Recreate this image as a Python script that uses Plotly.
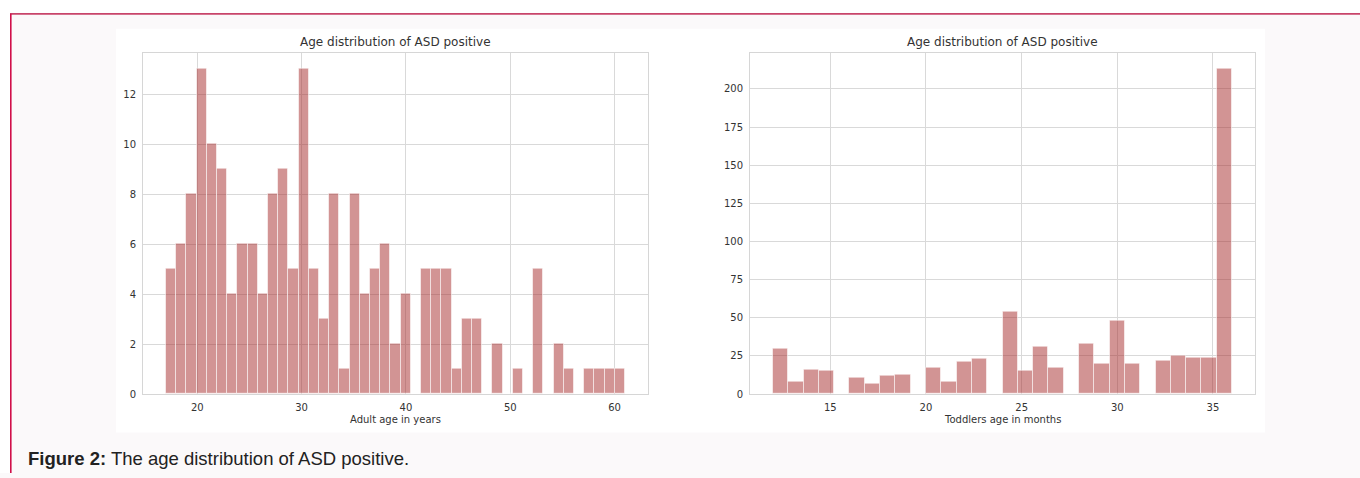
import plotly.graph_objects as go

# Adult ages (years): 45 equal bins spanning 17..61
adult_start, adult_end = 17, 61
adult_counts = [5, 6, 8, 13, 10, 9, 4, 6, 6, 4,
                8, 9, 5, 13, 5, 3, 8, 1, 8, 4,
                5, 6, 2, 4, 0, 5, 5, 5, 1, 3,
                3, 0, 2, 0, 1, 0, 5, 0, 2, 1,
                0, 1, 1, 1, 1]

# Toddler ages (months): 30 equal bins spanning 12..36
toddler_start, toddler_end = 12, 36
toddler_counts = [30, 8, 16, 15, 0, 11, 7, 12, 13, 0,
                  17, 8, 21, 23, 0, 54, 15, 31, 17, 0,
                  33, 20, 48, 20, 0, 22, 25, 24, 24, 213]

adult_ticks = [20, 30, 40, 50, 60]
adult_yticks = [0, 2, 4, 6, 8, 10, 12]
toddler_ticks = [15, 20, 25, 30, 35]
toddler_yticks = [0, 25, 50, 75, 100, 125, 150, 175, 200]

title_text = "Age distribution of ASD positive"
adult_xlabel = "Adult age in years"
toddler_xlabel = "Toddlers age in months"
caption_bold = "Figure 2:"
caption_rest = " The age distribution of ASD positive."

W, H = 1360, 478
BAR_FILL = "rgba(165,42,42,0.5)"
BAR_EDGE = "rgba(255,255,255,0.55)"
GRID = "#d9d9d9"
TXT = "#333333"
FONT = "DejaVu Sans"


def bins(start, end, counts):
    n = len(counts)
    w = (end - start) / n
    centers = [start + w * (i + 0.5) for i in range(n)]
    return centers, w


def pad_range(lo, hi, frac=0.05):
    d = (hi - lo) * frac
    return [lo - d, hi + d]


fig = go.Figure()

ax, aw = bins(adult_start, adult_end, adult_counts)
tx, tw = bins(toddler_start, toddler_end, toddler_counts)

fig.add_trace(go.Bar(x=ax, y=adult_counts, width=aw, xaxis="x", yaxis="y",
                     marker=dict(color=BAR_FILL, line=dict(color=BAR_EDGE, width=1)),
                     showlegend=False, hoverinfo="x+y"))
fig.add_trace(go.Bar(x=tx, y=toddler_counts, width=tw, xaxis="x2", yaxis="y2",
                     marker=dict(color=BAR_FILL, line=dict(color=BAR_EDGE, width=1)),
                     showlegend=False, hoverinfo="x+y"))

# plot-area geometry in pixels
left_px = (143, 648)
right_px = (750, 1255)
top_px, bot_px = 53.3, 398.3
ydom = [1 - bot_px / H, 1 - top_px / H]

axis_common = dict(showgrid=True, gridcolor=GRID, gridwidth=1,
                   showline=True, linecolor="#d6d6d6", linewidth=1, mirror=True,
                   zeroline=False, ticks="", fixedrange=True,
                   tickfont=dict(family=FONT, size=10, color=TXT))

fig.update_layout(
    width=W, height=H,
    margin=dict(l=0, r=0, t=0, b=0),
    paper_bgcolor="#fbf9fa",
    plot_bgcolor="white",
    bargap=0,
    xaxis=dict(domain=[left_px[0] / W, left_px[1] / W], anchor="y",
               range=pad_range(adult_start, adult_end),
               tickvals=adult_ticks, ticklabelstandoff=4, **axis_common),
    yaxis=dict(domain=ydom, anchor="x",
               range=[0, max(adult_counts) * 1.05],
               tickvals=adult_yticks, ticklabelstandoff=4, **axis_common),
    xaxis2=dict(domain=[right_px[0] / W, right_px[1] / W], anchor="y2",
                range=pad_range(toddler_start, toddler_end),
                tickvals=toddler_ticks, ticklabelstandoff=4, **axis_common),
    yaxis2=dict(domain=ydom, anchor="x2",
                range=[0, max(toddler_counts) * 1.05],
                tickvals=toddler_yticks, ticklabelstandoff=4, **axis_common),
)

# page frame, white figure panel and the red rule lines
fig.add_shape(type="rect", xref="paper", yref="paper",
              x0=116 / W, x1=1265 / W, y0=1 - 437 / H, y1=1 - 29 / H,
              fillcolor="white", line=dict(width=0), layer="below")
fig.add_shape(type="rect", xref="paper", yref="paper",
              x0=0, x1=1, y0=1 - 13 / H, y1=1,
              fillcolor="white", line=dict(width=0), layer="below")
fig.add_shape(type="rect", xref="paper", yref="paper",
              x0=0, x1=10 / W, y0=0, y1=1,
              fillcolor="white", line=dict(width=0), layer="below")
fig.add_shape(type="line", xref="paper", yref="paper",
              x0=10 / W, x1=1, y0=1 - 14 / H, y1=1 - 14 / H,
              line=dict(color="#c8446a", width=1.6))
fig.add_shape(type="line", xref="paper", yref="paper",
              x0=10.8 / W, x1=10.8 / W, y0=0, y1=1 - 14 / H,
              line=dict(color="#d0104a", width=1.6))

# titles and axis labels
for (x0, x1), xlabel in ((left_px, adult_xlabel), (right_px, toddler_xlabel)):
    xc = (x0 + x1) / 2 / W
    fig.add_annotation(x=xc, y=1 - 42 / H, xref="paper", yref="paper",
                       text=title_text, showarrow=False,
                       font=dict(family=FONT, size=12, color=TXT),
                       xanchor="center", yanchor="middle")
    fig.add_annotation(x=xc, y=1 - 424 / H, xref="paper", yref="paper",
                       text=xlabel, showarrow=False,
                       font=dict(family=FONT, size=10, color=TXT),
                       xanchor="center", yanchor="middle")

fig.add_annotation(x=26 / W, y=1 - 463 / H, xref="paper", yref="paper",
                   text=f"<b>{caption_bold}</b>{caption_rest}", showarrow=False,
                   font=dict(family="Liberation Sans", size=18.5, color="#222222"),
                   xanchor="left", yanchor="middle")

fig.write_html("out.html")
